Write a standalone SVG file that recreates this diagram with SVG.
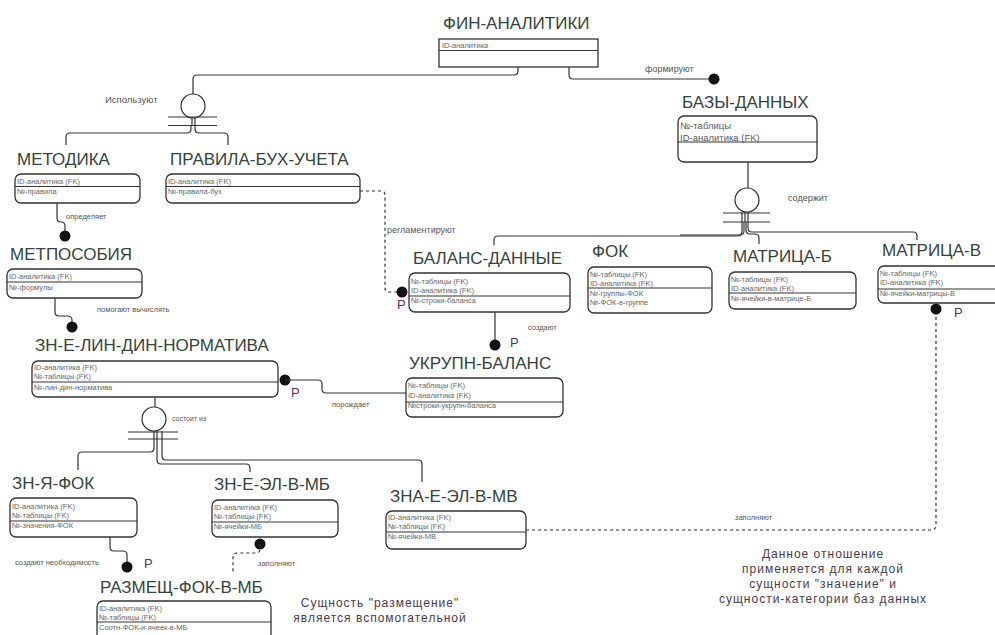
<svg xmlns="http://www.w3.org/2000/svg" width="995" height="635" viewBox="0 0 995 635">
<style>
text{font-family:"Liberation Sans",Arial,sans-serif}
.t{font-size:17px;fill:#34443c}
.a{font-size:7.5px;fill:#666}
.ab{font-size:9.5px;fill:#5a5a5a}
.r{fill:#555}
.p{font-size:13px;fill:#5a3268}
.n{font-size:12px;fill:#4a3a4a;letter-spacing:1px}
.box{fill:#fff;stroke:#333;stroke-width:1.3}
.dv{stroke:#333;stroke-width:1.2}
.ln{fill:none;stroke:#333;stroke-width:1.2}
.ds{fill:none;stroke:#333;stroke-width:1.2;stroke-dasharray:3 3}
.dot{fill:#111}
.ci{fill:#fff;stroke:#333;stroke-width:1.2}
</style>
<rect width="995" height="635" fill="#fff"/>

<g id="connectors">
  <!-- ФИН -> Используют -->
  <path class="ln" d="M518,67 V71 Q518,75 514,75 H197 Q193,75 193,79 V94"/>
  <circle class="ci" cx="193" cy="106" r="12"/>
  <path class="ln" d="M168,117 H217 M168,125.5 H217 M192,118 V126 M195,118 V126"/>
  <path class="ln" d="M191,126 V129 Q191,133 187,133 H70 Q66,133 66,137 V145"/>
  <path class="ln" d="M195,126 V129 Q195,133 199,133 H224 Q228,133 228,137 V145"/>
  <text class="r" x="105" y="103" font-size="9.5">Используют</text>

  <!-- ФИН -> БАЗЫ -->
  <path class="ln" d="M569,67 V75 Q569,79 573,79 H714"/>
  <circle class="dot" cx="714" cy="79" r="5.5"/>
  <text class="r" x="645" y="72" font-size="9">формируют</text>

  <!-- МЕТОДИКА -> МЕТПОСОБИЯ -->
  <path class="ln" d="M57,203 V218 Q57,222 61,222 Q65,222 65,226 V236"/>
  <circle class="dot" cx="65" cy="236" r="5.5"/>
  <text class="r" x="66" y="219" font-size="7.5">определяет</text>

  <!-- МЕТПОСОБИЯ -> ЗН-Е-ЛИН -->
  <path class="ln" d="M55,298 V312 Q55,316 59,316 H67 Q72,316 72,320 V327"/>
  <circle class="dot" cx="72" cy="327" r="5.5"/>
  <text class="r" x="97" y="312" font-size="7.5">помогают вычислять</text>

  <!-- ПРАВИЛА -> БАЛАНС (dashed) -->
  <path class="ds" d="M360,191 H381 Q385,191 385,195 V288 Q385,292 389,292 H398"/>
  <circle class="dot" cx="402" cy="292" r="5.5"/>
  <text class="p" x="397" y="309">P</text>
  <text class="r" x="387" y="233" font-size="9">регламентируют</text>

  <!-- БАЛАНС -> УКРУПН -->
  <path class="ln" d="M495,312 V345"/>
  <circle class="dot" cx="495" cy="345" r="5.5"/>
  <text class="p" x="510" y="347">P</text>
  <text class="r" x="528" y="330" font-size="7.5">создают</text>

  <!-- ЗН-Е-ЛИН -> УКРУПН -->
  <circle class="dot" cx="285" cy="380" r="5.5"/>
  <path class="ln" d="M285,380 H318 Q322,380 322,384 V389 Q322,393 326,393 H406"/>
  <text class="p" x="291" y="397">P</text>
  <text class="r" x="332" y="407" font-size="7.5">порождает</text>

  <!-- БАЗЫ -> содержит -->
  <path class="ln" d="M748,162 V188"/>
  <circle class="ci" cx="747" cy="200" r="12"/>
  <path class="ln" d="M723,213 H770 M723,222 H770 M742,212 V222 M745,212 V222 M748,212 V222"/>
  <text class="r" x="788" y="201" font-size="9">содержит</text>
  <path class="ln" d="M742,222 V231 Q742,236 737,236 H498 Q494,236 494,240 V245"/>
  <path class="ln" d="M744,222 V231 Q744,235 739,235 H680"/>
  <path class="ln" d="M746,222 V230 Q746,234 750,234 H755 Q759,234 759,238 V244"/>
  <path class="ln" d="M748,222 V228 Q748,232 752,232 H913 Q917,232 917,236 V240"/>

  <!-- ЗН-Е-ЛИН -> состоит из -->
  <path class="ln" d="M155,397 V407"/>
  <circle class="ci" cx="154" cy="419" r="12"/>
  <path class="ln" d="M128,432 H178 M128,439 H178 M154,431 V440 M157,431 V440 M162,431 V440"/>
  <text class="r" x="172" y="421" font-size="7">состоит из</text>
  <path class="ln" d="M154,440 V448 Q154,452 150,452 H82 Q78,452 78,456 V470"/>
  <path class="ln" d="M157,440 V460 Q157,464 161,464 H246 Q250,464 250,468 V472"/>
  <path class="ln" d="M162,440 V456 Q162,460 166,460 H418 Q422,460 422,464 V482"/>

  <!-- ЗН-Я-ФОК -> РАЗМЕЩ -->
  <path class="ln" d="M110,537 V547 Q110,551 114,551 H123 Q127,551 127,555 V567"/>
  <circle class="dot" cx="127" cy="567" r="5.5"/>
  <text class="p" x="144" y="568">P</text>
  <text class="r" x="15" y="565" font-size="7.5">создают необходимость</text>

  <!-- ЗН-Е-ЭЛ-В-МБ -> РАЗМЕЩ (dashed) -->
  <circle class="dot" cx="260" cy="544" r="5.5"/>
  <path class="ds" d="M260,544 V549 Q260,553 256,553 H237 Q233,553 233,557 V574"/>
  <text class="r" x="258" y="566" font-size="7.5">заполняют</text>

  <!-- ЗНА -> МАТРИЦА-В (dashed) -->
  <path class="ds" d="M526,530 H931 Q936,530 936,525 V309"/>
  <circle class="dot" cx="936" cy="309" r="5.5"/>
  <text class="p" x="954" y="317">P</text>
  <text class="r" x="735" y="520" font-size="7.5">заполняют</text>
</g>

<g id="fin-analitiki">
  <text class="t" x="443" y="29">ФИН-АНАЛИТИКИ</text>
  <rect class="box" x="439" y="39" width="159" height="28"/>
  <line class="dv" x1="439" y1="50.5" x2="598" y2="50.5"/>
  <text class="a" x="442" y="48">ID-аналитика</text>
</g>

<g id="bazy-dannyh">
  <text class="t" x="682" y="108">БАЗЫ-ДАННЫХ</text>
  <rect class="box" x="678" y="116" width="139" height="46" rx="6"/>
  <line class="dv" x1="678" y1="142" x2="817" y2="142"/>
  <text class="ab" x="680" y="129">№-таблицы</text>
  <text class="ab" x="680" y="141">ID-аналитика (FK)</text>
</g>

<g id="metodika">
  <text class="t" x="17" y="165">МЕТОДИКА</text>
  <rect class="box" x="15" y="174" width="125" height="29" rx="6"/>
  <line class="dv" x1="15" y1="186.5" x2="140" y2="186.5"/>
  <text class="a" x="17" y="184">ID-аналитика (FK)</text>
  <text class="a" x="17" y="194">№-правила</text>
</g>

<g id="pravila-buh-ucheta">
  <text class="t" x="170" y="165">ПРАВИЛА-БУХ-УЧЕТА</text>
  <rect class="box" x="166" y="174" width="194" height="29" rx="6"/>
  <line class="dv" x1="166" y1="186.5" x2="360" y2="186.5"/>
  <text class="a" x="168" y="184">ID-аналитика (FK)</text>
  <text class="a" x="168" y="194">№-правила-бух</text>
</g>

<g id="metposobiya">
  <text class="t" x="10" y="260">МЕТПОСОБИЯ</text>
  <rect class="box" x="7" y="269" width="135" height="29" rx="6"/>
  <line class="dv" x1="7" y1="282" x2="142" y2="282"/>
  <text class="a" x="9" y="279">ID-аналитика (FK)</text>
  <text class="a" x="9" y="290">№-формулы</text>
</g>

<g id="zn-e-lin-din-normativa">
  <text class="t" x="35" y="351">ЗН-Е-ЛИН-ДИН-НОРМАТИВА</text>
  <rect class="box" x="32" y="361" width="246" height="36" rx="6"/>
  <line class="dv" x1="32" y1="382" x2="278" y2="382"/>
  <text class="a" x="34" y="370">ID-аналитика (FK)</text>
  <text class="a" x="34" y="379">№-таблицы (FK)</text>
  <text class="a" x="34" y="390">№-лин-дин-норматива</text>
</g>

<g id="balans-dannye">
  <text class="t" x="413" y="264">БАЛАНС-ДАННЫЕ</text>
  <rect class="box" x="409" y="273" width="161" height="39" rx="6"/>
  <line class="dv" x1="409" y1="296" x2="570" y2="296"/>
  <text class="a" x="411" y="284">№-таблицы (FK)</text>
  <text class="a" x="411" y="293">ID-аналитика (FK)</text>
  <text class="a" x="411" y="303">№-строки-баланса</text>
</g>

<g id="fok">
  <text class="t" x="592" y="257">ФОК</text>
  <rect class="box" x="588" y="267" width="124" height="46" rx="6"/>
  <line class="dv" x1="588" y1="288" x2="712" y2="288"/>
  <text class="a" x="590" y="277">№-таблицы (FK)</text>
  <text class="a" x="590" y="286">ID-аналитика (FK)</text>
  <text class="a" x="590" y="296">№-группы-ФОК</text>
  <text class="a" x="590" y="305">№-ФОК-в-группе</text>
</g>

<g id="matrica-b">
  <text class="t" x="733" y="262">МАТРИЦА-Б</text>
  <rect class="box" x="729" y="272" width="127" height="37" rx="6"/>
  <line class="dv" x1="729" y1="293" x2="856" y2="293"/>
  <text class="a" x="731" y="282">№-таблицы (FK)</text>
  <text class="a" x="731" y="291">ID-аналитика (FK)</text>
  <text class="a" x="731" y="301">№-ячейки-в-матрице-Б</text>
</g>

<g id="matrica-v">
  <text class="t" x="882" y="256">МАТРИЦА-В</text>
  <rect class="box" x="878" y="266" width="140" height="37" rx="6"/>
  <line class="dv" x1="878" y1="289" x2="1018" y2="289"/>
  <text class="a" x="880" y="276">№-таблицы (FK)</text>
  <text class="a" x="880" y="285">ID-аналитика (FK)</text>
  <text class="a" x="880" y="296">№-ячейки-матрицы-В</text>
</g>

<g id="ukrupn-balans">
  <text class="t" x="409" y="369">УКРУПН-БАЛАНС</text>
  <rect class="box" x="406" y="378" width="157" height="39" rx="6"/>
  <line class="dv" x1="406" y1="402" x2="563" y2="402"/>
  <text class="a" x="408" y="388">№-таблицы (FK)</text>
  <text class="a" x="408" y="398">ID-аналитика (FK)</text>
  <text class="a" x="408" y="408">№строки-укрупн-баланса</text>
</g>

<g id="zn-ya-fok">
  <text class="t" x="12" y="489">ЗН-Я-ФОК</text>
  <rect class="box" x="10" y="498" width="127" height="39" rx="6"/>
  <line class="dv" x1="10" y1="521" x2="137" y2="521"/>
  <text class="a" x="12" y="509">ID-аналитика (FK)</text>
  <text class="a" x="12" y="518">№-таблицы (FK)</text>
  <text class="a" x="12" y="528">№-значения-ФОК</text>
</g>

<g id="zn-e-el-v-mb">
  <text class="t" x="214" y="490">ЗН-Е-ЭЛ-В-МБ</text>
  <rect class="box" x="212" y="500" width="126" height="37" rx="6"/>
  <line class="dv" x1="212" y1="522" x2="338" y2="522"/>
  <text class="a" x="214" y="510">ID-аналитика (FK)</text>
  <text class="a" x="214" y="519">№-таблицы (FK)</text>
  <text class="a" x="214" y="529">№-ячейки-МБ</text>
</g>

<g id="zna-e-el-v-mv">
  <text class="t" x="390" y="502">ЗНА-Е-ЭЛ-В-МВ</text>
  <rect class="box" x="386" y="511" width="140" height="38" rx="6"/>
  <line class="dv" x1="386" y1="532" x2="526" y2="532"/>
  <text class="a" x="388" y="520">ID-аналитика (FK)</text>
  <text class="a" x="388" y="529">№-таблицы (FK)</text>
  <text class="a" x="388" y="539">№-ячейки-МВ</text>
</g>

<g id="razmesch-fok-v-mb">
  <text class="t" x="100" y="593">РАЗМЕЩ-ФОК-В-МБ</text>
  <rect class="box" x="97" y="601" width="174" height="50" rx="6"/>
  <line class="dv" x1="97" y1="622" x2="271" y2="622"/>
  <text class="a" x="99" y="611">ID-аналитика (FK)</text>
  <text class="a" x="99" y="620">№-таблицы (FK)</text>
  <text class="a" x="99" y="630">Соотн-ФОК-и-ячеек-в-МБ</text>
</g>

<g id="notes">
  <text class="n" x="380" y="607" text-anchor="middle">Сущность "размещение"</text>
  <text class="n" x="380" y="622" text-anchor="middle">является вспомогательной</text>
  <text class="n" x="823" y="558" text-anchor="middle">Данное отношение</text>
  <text class="n" x="823" y="573" text-anchor="middle">применяется для каждой</text>
  <text class="n" x="823" y="588" text-anchor="middle">сущности "значение" и</text>
  <text class="n" x="823" y="603" text-anchor="middle">сущности-категории баз данных</text>
</g>
</svg>
